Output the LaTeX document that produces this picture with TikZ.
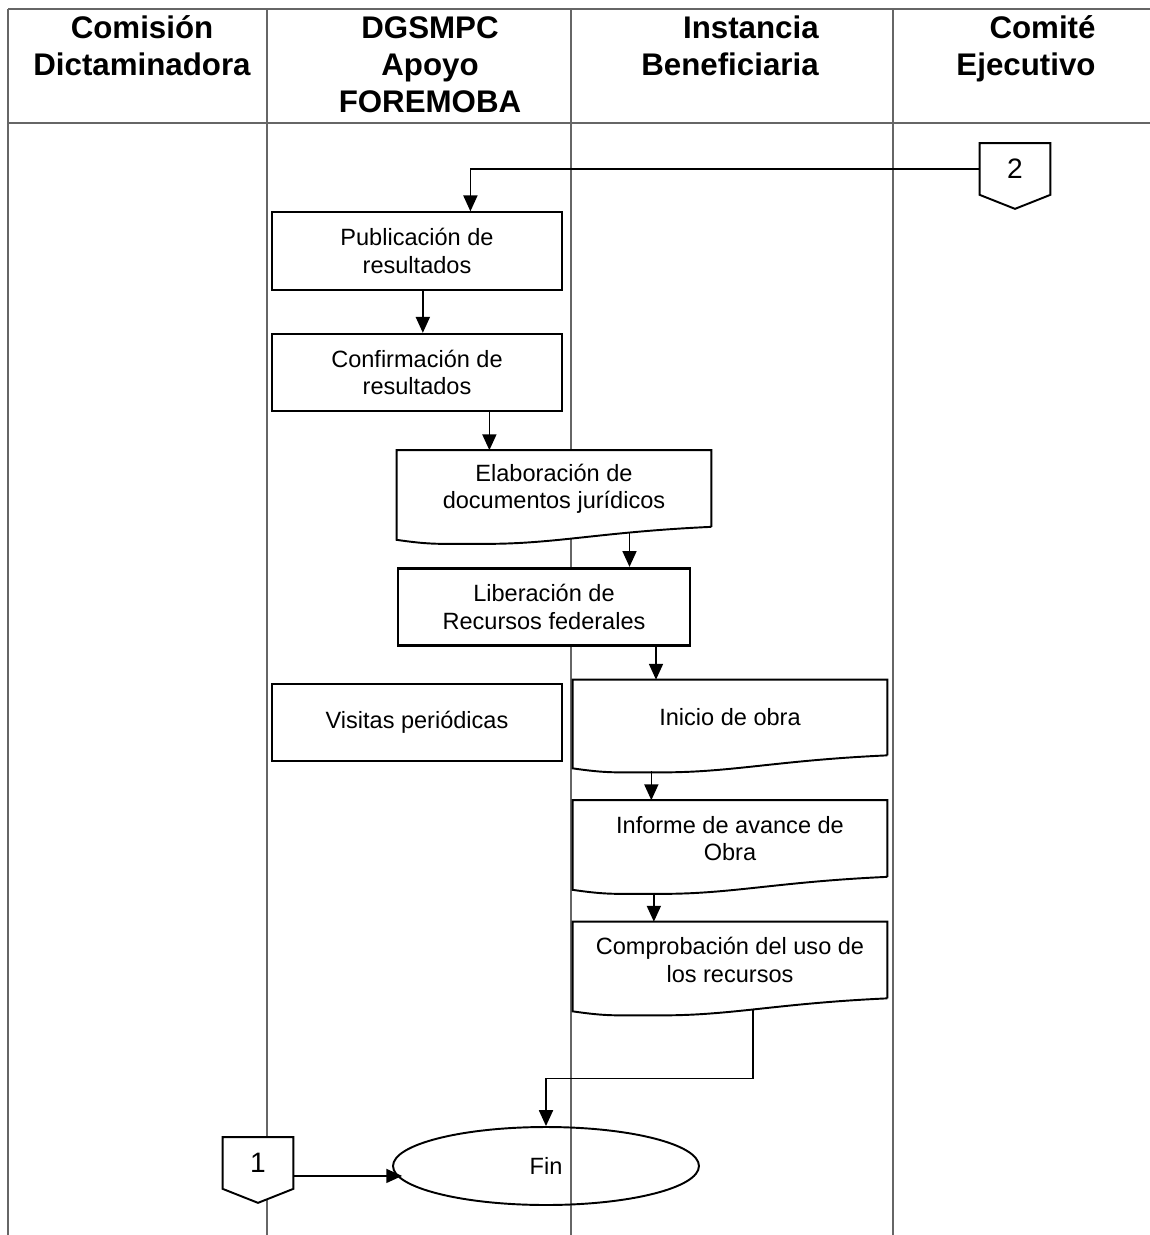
\documentclass[tikz,border=0pt]{standalone}
\usepackage{fontspec}
\setmainfont{Liberation Sans}
\usetikzlibrary{calc,arrows.meta,shapes.geometric}

\pgfdeclarelayer{lanes}
\pgfdeclarelayer{fills}
\pgfsetlayers{lanes,fills,main}

\newcommand\boxfont{\fontsize{13.4}{15.6}\selectfont}
\newcommand\linkfont{\fontsize{16}{19}\selectfont}
\newcommand\headfont{\fontsize{17.8}{21}\selectfont\bfseries}

\tikzset{
	lane/.style={draw=black!60, line width=0.6pt},
	procbox/.style={draw, fill=white, line width=1.1pt, minimum width=5.8cm, minimum height=1.55cm, inner sep=0pt, align=center, font=\boxfont},
	docbox/.style={minimum width=6.28cm, minimum height=1.52cm, inner sep=0pt, align=center, font=\boxfont},
	docline/.style={draw, fill=white, line width=1.1pt},
	pagelink/.style={minimum width=1.4cm, minimum height=1.02cm, inner sep=0pt, font=\linkfont},
	head/.style={align=center, font=\headfont},
	arr/.style={-{Triangle[length=9pt,width=8pt]}, line width=0.85pt},
}

% outline with wavy bottom behind node #1
\newcommand\docedge[1]{%
	\begin{pgfonlayer}{fills}
	\draw[docline] (#1.south east) -- (#1.north east) -- (#1.north west) -- ($(#1.south west)+(0,13)$)
		.. controls +(35,5) and +(-50,0) .. ($(#1.south west)+(90,17)$)
		.. controls +(70,0) and +(-110,5) .. (#1.south east);
	\end{pgfonlayer}}
% off-page connector behind node #1
\newcommand\pageedge[1]{%
	\begin{pgfonlayer}{fills}
	\draw[docline] (#1.north west) -- (#1.north east) -- (#1.south east) -- ($(#1.south)+(0,14)$) -- (#1.south west) -- cycle;
	\end{pgfonlayer}}

\begin{document}
\begin{tikzpicture}[x=0.02cm, y=-0.02cm]
		%%%%% START %%%%%
		\useasboundingbox (0,0) rectangle (1150,1235);
		
		\begin{pgfonlayer}{lanes}
		\draw[lane] (8,9) -- (1150,9);
		\draw[lane] (8,123) -- (1150,123);
		\draw[lane] (8,9) -- (8,1235);
		\draw[lane] (267,9) -- (267,1235);
		\draw[lane] (571,9) -- (571,1235);
		\draw[lane] (893,9) -- (893,1235);
		\end{pgfonlayer}
		
		\node[head] (hcomision) at (142,46) {Comisión\\Dictaminadora};
		\node[head] (hdgsmpc) at (430,65) {DGSMPC\\Apoyo\\FOREMOBA};
		\node[head, align=right] (hinstancia) at (730,46) {Instancia\\Beneficiaria};
		\node[head, align=right] (hcomite) at (1026,49) {Comité\\Ejecutivo};
		
		\node[procbox] (pub) at (417,251) {Publicación de\\resultados};
		\node[procbox] (conf) at (417,372.5) {Confirmación de\\resultados};
		\node[docbox] (elab) at (554,488.5) {Elaboración de\\documentos jurídicos};
		\docedge{elab}
		\node[procbox, line width=1.6pt, minimum width=5.84cm] (lib) at (544,607) {Liberación de\\Recursos federales};
		\node[procbox] (visit) at (417,722.5) {Visitas periódicas};
		\node[docbox, minimum height=1.5cm] (ini) at (730,717.5) {Inicio de obra};
		\docedge{ini}
		\node[docbox] (inf) at (730,838.5) {Informe de avance de\\Obra};
		\docedge{inf}
		\node[docbox] (comp) at (730,960) {Comprobación del uso de\\los recursos};
		\docedge{comp}
		\node[draw, ellipse, line width=1.1pt, minimum width=6.12cm, minimum height=1.56cm, font=\boxfont] (fin) at (546,1166) {Fin};
		
		\node[pagelink] (c1) at (258,1163) {1};
		\pageedge{c1}
		\node[pagelink] (c2) at (1015,169) {2};
		\pageedge{c2}
		
		\draw[arr] (c2.west) -| ($(pub.north west)!0.683!(pub.north east)$);
		\draw[arr] ($(pub.south west)!0.52!(pub.south east)$) coordinate (p1) -- (p1 |- conf.north);
		\draw[arr] ($(conf.south west)!0.748!(conf.south east)$) coordinate (p2) -- (p2 |- elab.north);
		\draw[arr] ($(elab.south west)!0.74!(elab.south east)+(0,6)$) coordinate (p3) -- (p3 |- lib.north);
		\draw[arr] ($(lib.south west)!0.88!(lib.south east)$) coordinate (p4) -- (p4 |- ini.north);
		\draw[arr] ($(ini.south west)!0.25!(ini.south east)+(0,16)$) coordinate (p5) -- (p5 |- inf.north);
		\draw[arr] ($(inf.south west)!0.258!(inf.south east)+(0,16)$) coordinate (p6) -- (p6 |- comp.north);
		\draw[arr] ($(comp.south west)!0.573!(comp.south east)+(0,11)$) -- ++(0,69) -| (fin.north);
		\draw[arr] ($(c1.north east)!0.75!(c1.south east)$) coordinate (p8) -- ($(p8 -| fin.west)+(10,0)$);
		
		%%%%% END %%%%%
	\end{tikzpicture}
\end{document}
